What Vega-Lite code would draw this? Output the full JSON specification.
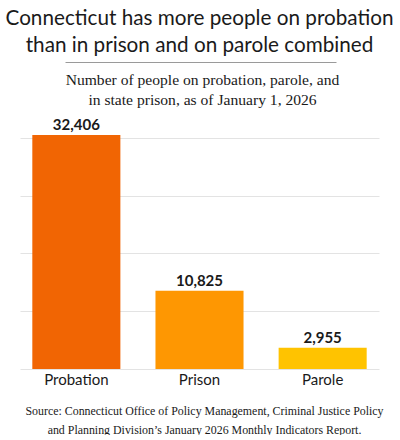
{
  "$schema": "https://vega.github.io/schema/vega-lite/v6.json",
  "padding": {"left": 5, "right": 5, "top": 8, "bottom": 0},
  "data": {"values": [
    {"category": "Probation", "count": 32406},
    {"category": "Prison", "count": 10825},
    {"category": "Parole", "count": 2955}
  ]},
  "spacing": 8,
  "vconcat": [
    {
      "width": 359,
      "height": 1,
      "title": {
        "text": ["Connecticut has more people on probation", "than in prison and on parole combined"],
        "font": "Lato",
        "fontSize": 20.7,
        "fontWeight": "normal",
        "color": "#1a1a1a",
        "lineHeight": 27,
        "anchor": "middle",
        "offset": 2
      },
      "mark": {"type": "point", "opacity": 0},
      "encoding": {
        "x": {"field": "category", "type": "nominal", "sort": null,
          "scale": {"range": [45, 316]},
          "axis": {"labels": false, "ticks": false, "title": null, "grid": false, "domainColor": "#9a9a9a", "domainWidth": 1}}
      }
    },
    {
      "width": 359,
      "height": 234,
      "title": {
        "text": ["Number of people on probation, parole, and", "in state prison, as of January 1, 2026"],
        "font": "Liberation Serif",
        "fontSize": 15.6,
        "fontWeight": "normal",
        "color": "#1a1a1a",
        "lineHeight": 20,
        "anchor": "middle",
        "frame": "group",
        "dx": 3,
        "offset": 9
      },
      "encoding": {
        "x": {"field": "category", "type": "nominal", "sort": null,
          "scale": {"paddingInner": 0.285, "paddingOuter": 0.1},
          "axis": {
            "labelAngle": 0, "labelFont": "Lato", "labelFontSize": 15, "labelColor": "#1a1a1a",
            "labelPadding": 3, "ticks": false, "domain": false, "grid": false,
            "title": ["Source: Connecticut Office of Policy Management, Criminal Justice Policy", "and Planning Division\u2019s January 2026 Monthly Indicators Report."],
            "titleFont": "Liberation Serif", "titleFontSize": 11.9, "titleFontWeight": "normal",
            "titleColor": "#1a1a1a", "titleLineHeight": 19, "titlePadding": 18, "titleX": 184
          }},
        "y": {"field": "count", "type": "quantitative",
          "scale": {"domain": [0, 32406], "nice": false},
          "axis": {"values": [0, 8000, 16000, 24000, 32000], "labels": false, "ticks": false, "domain": false, "title": null,
            "grid": true, "gridColor": "#e3e3e3", "gridWidth": 1}}
      },
      "layer": [
        {
          "mark": {"type": "bar"},
          "encoding": {
            "color": {"field": "category", "type": "nominal",
              "scale": {"domain": ["Probation", "Prison", "Parole"], "range": ["#F16503", "#FE9702", "#FFC300"]},
              "legend": null}
          }
        },
        {
          "mark": {"type": "text", "baseline": "bottom", "dy": -2, "font": "Lato", "fontSize": 15, "fontWeight": "bold", "color": "#1a1a1a"},
          "encoding": {
            "text": {"field": "count", "type": "quantitative", "format": ","}
          }
        }
      ]
    }
  ],
  "config": {"view": {"stroke": null}, "background": "white"}
}
